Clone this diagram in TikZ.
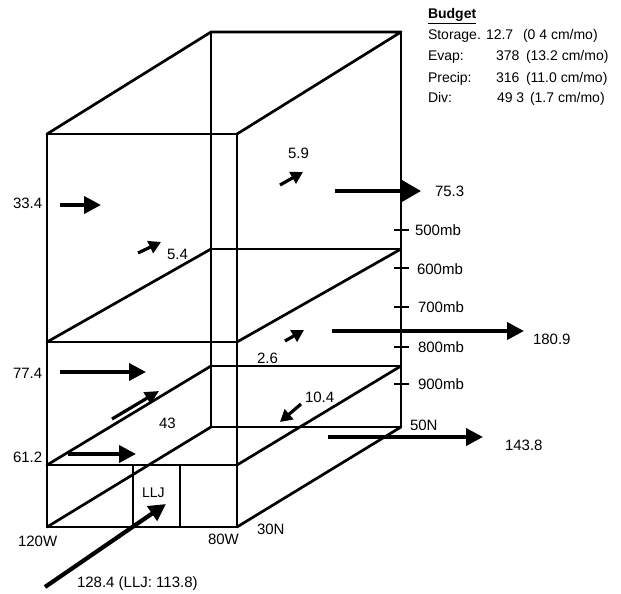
\documentclass[tikz,border=0pt]{standalone}
\usepackage{fontspec}
\setmainfont{Liberation Sans}
\usetikzlibrary{arrows.meta}

\begin{document}
\begin{tikzpicture}[x=1pt,y=-1pt]
\useasboundingbox (0,0) rectangle (621,594);

\tikzstyle{edge}=[line width=2.7pt,black,line cap=round,line join=round]
\tikzstyle{thinedge}=[line width=1.4pt,black]
\tikzstyle{flux}=[line width=3.8pt,black,-{Triangle[length=17pt,width=17pt]}]
\tikzstyle{smallflux}=[line width=3.2pt,black,-{Triangle[length=12pt,width=13pt]}]
\tikzstyle{lab}=[outer sep=0pt,inner sep=0pt,anchor=base west,font=\fontsize{15}{15}\selectfont]
\tikzstyle{bud}=[outer sep=0pt,inner sep=0pt,anchor=base west,font=\fontsize{14}{14}\selectfont]

% box: front face, top face, back edges
\draw [edge] plot[] coordinates {(47,134) (237,134) (237,527) (47,527) (47,134)};
\draw [edge] plot[] coordinates {(47,134) (211,32) (401,32) (237,134)};
\draw [edge] plot[] coordinates {(401,32) (401,427)};
\draw [thinedge] plot[] coordinates {(211,32) (211,427)};

% layers
\draw [edge] plot[] coordinates {(47,342) (237,342)};
\draw [edge] plot[] coordinates {(47,465) (237,465)};
\draw [thinedge] plot[] coordinates {(211,249) (401,249)};
\draw [thinedge] plot[] coordinates {(211,366) (401,366)};
\draw [thinedge] plot[] coordinates {(211,427) (401,427)};
\draw [edge] plot[] coordinates {(47,342) (211,249)};
\draw [edge] plot[] coordinates {(237,342) (401,249)};
\draw [edge] plot[] coordinates {(47,465) (211,366)};
\draw [edge] plot[] coordinates {(237,465) (401,366)};
\draw [edge] plot[] coordinates {(47,527) (211,427)};
\draw [edge] plot[] coordinates {(237,527) (401,427)};

% LLJ box
\draw [thinedge,line width=2pt] plot[] coordinates {(133,465) (133,527)};
\draw [thinedge,line width=2pt] plot[] coordinates {(180,465) (180,527)};
\node (llj) [bud] at (142,497) {LLJ};

% pressure ticks
\draw [line width=2pt] (394,230) -- (409,230) (394,268) -- (409,268) (394,307) -- (409,307) (394,347) -- (409,347) (394,384) -- (409,384);
\node (p500) [lab] at (415,235) {500mb};
\node (p600) [lab] at (417,274) {600mb};
\node (p700) [lab] at (418,312) {700mb};
\node (p800) [lab] at (418,352) {800mb};
\node (p900) [lab] at (418,389) {900mb};

% fluxes
\draw [flux] plot[] coordinates {(60,205) (101,205)};
\node (w334) [lab] at (13,208) {33.4};
\draw [smallflux] plot[] coordinates {(138,253) (161,242)};
\node (n54) [lab] at (167,259) {5.4};
\draw [smallflux] plot[] coordinates {(280,185) (303,172)};
\node (n59) [lab] at (288,158) {5.9};
\draw [flux,-{Triangle[length=20pt,width=22pt]}] plot[] coordinates {(335,191) (421,191)};
\node (e753) [lab] at (435,196) {75.3};

\draw [flux] plot[] coordinates {(332,331) (524,331)};
\node (e1809) [lab] at (533,344) {180.9};
\draw [smallflux] plot[] coordinates {(285,341) (304,330)};
\node (n26) [lab] at (257,363) {2.6};
\draw [flux] plot[] coordinates {(60,372) (146,372)};
\node (w774) [lab] at (13,378) {77.4};

\draw [smallflux] plot[] coordinates {(301,404) (280,422)};
\node (n104) [lab] at (305,402) {10.4};
\draw [smallflux,-{Triangle[length=14pt,width=13pt]}] plot[] coordinates {(112,419) (159,391)};
\node (n43) [lab] at (159,428) {43};
\draw [flux] plot[] coordinates {(68,454) (136,454)};
\node (w612) [lab] at (13,462) {61.2};
\draw [flux] plot[] coordinates {(328,437) (483,437)};
\node (e1438) [lab] at (505,450) {143.8};

\draw [flux,line width=4.2pt] plot[] coordinates {(45,587) (166,504)};
\node (s1284) [lab] at (77,587) {128.4 (LLJ: 113.8)};

% corners
\node (c120w) [lab] at (18,546) {120W};
\node (c80w) [lab] at (208,544) {80W};
\node (c30n) [lab] at (257,534) {30N};
\node (c50n) [lab] at (410,430) {50N};

% budget
\node (budget) [bud,font=\fontsize{14}{14}\selectfont\bfseries] at (428,19) {\underline{Budget}};
\node (bst) [bud] at (428,40) {Storage.};
\node (bstv) [bud] at (486,40) {12.7};
\node (bstc) [bud] at (523,40) {(0 4 cm/mo)};
\node (bev) [bud] at (428,61) {Evap:};
\node (bevv) [bud] at (496,61) {378};
\node (bevc) [bud] at (526,61) {(13.2 cm/mo)};
\node (bpr) [bud] at (428,82) {Precip:};
\node (bprv) [bud] at (496,82) {316};
\node (bprc) [bud] at (526,82) {(11.0 cm/mo)};
\node (bdv) [bud] at (428,102) {Div:};
\node (bdvv) [bud] at (497,102) {49 3};
\node (bdvc) [bud] at (530,102) {(1.7 cm/mo)};

\end{tikzpicture}
\end{document}
